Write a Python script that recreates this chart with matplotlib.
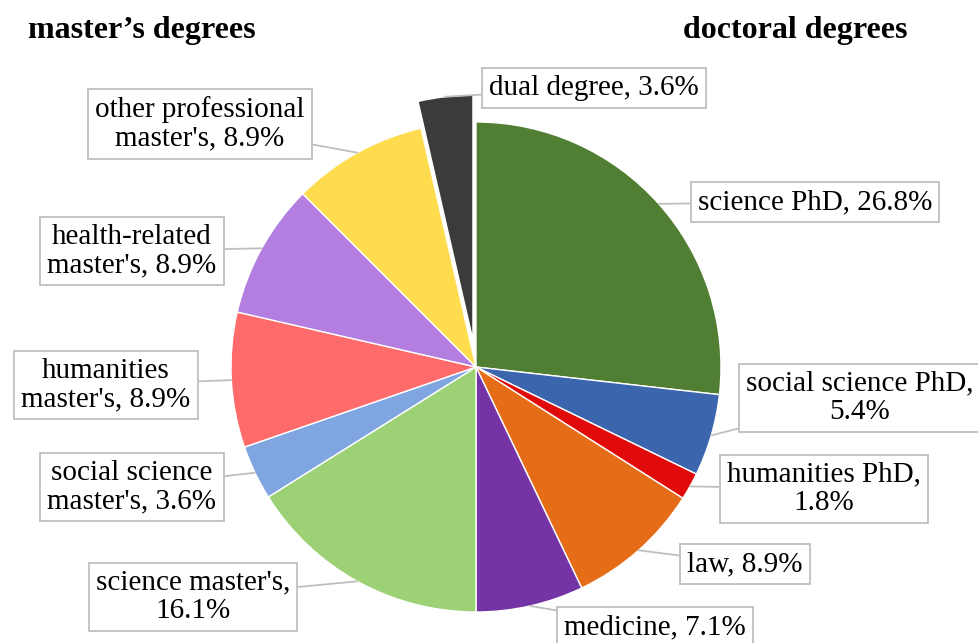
import matplotlib.pyplot as plt
import numpy as np

plt.rcParams["font.family"] = ["Liberation Serif", "DejaVu Serif"]

LABELS = [
    "science PhD, 26.8%",
    "social science PhD,\n5.4%",
    "humanities PhD,\n1.8%",
    "law, 8.9%",
    "medicine, 7.1%",
    "science master's,\n16.1%",
    "social science\nmaster's, 3.6%",
    "humanities\nmaster's, 8.9%",
    "health-related\nmaster's, 8.9%",
    "other professional\nmaster's, 8.9%",
    "dual degree, 3.6%",
]
SHARES = [26.8, 5.4, 1.8, 8.9, 7.1, 16.1, 3.6, 8.9, 8.9, 8.9, 3.6]
COLORS = ["#507e32", "#3b66ae", "#e00a0a", "#e56d18", "#7434a6",
          "#9dd175", "#7fa6e0", "#ff6b6b", "#b47ee0", "#ffdc4e", "#3c3a3b"]

# label box centres in pixel coords (x from left, y from top)
BOX_POS = [(815, 202), (860, 398), (824, 489), (745, 564), (655, 627),
           (193, 597), (132, 487), (106, 385), (132, 251), (200, 124),
           (594, 88)]

W, H = 979, 643
CX, CY, R = 476, 367, 245
explode = [0] * 10 + [27]   # pixels

fig = plt.figure(figsize=(W / 100, H / 100), dpi=100)
ax = fig.add_axes([0, 0, 1, 1])

wedges, _ = ax.pie(SHARES, colors=COLORS, explode=explode, startangle=90,
                   counterclock=False, center=(CX, H - CY), radius=R,
                   wedgeprops=dict(edgecolor="white", linewidth=1.0))
ax.set_xlim(0, W)
ax.set_ylim(0, H)
ax.set_aspect("equal")
ax.axis("off")

for w, lab, (bx, by) in zip(wedges, LABELS, BOX_POS):
    ang = np.deg2rad((w.theta1 + w.theta2) / 2)
    px = w.center[0] + w.r * np.cos(ang)
    py = w.center[1] + w.r * np.sin(ang)
    ax.annotate(lab, xy=(px, py), xytext=(bx, H - by),
                ha="center", va="center", fontsize=21, color="black",
                multialignment="center", linespacing=1.12,
                bbox=dict(boxstyle="square,pad=0.25", fc="white",
                          ec="#bfbfbf", lw=1.3),
                arrowprops=dict(arrowstyle="-", color="#bfbfbf", lw=1.3,
                                shrinkA=0, shrinkB=0))

ax.text(28, H - 30, "master’s degrees", fontsize=23, fontweight="bold",
        ha="left", va="center")
ax.text(908, H - 30, "doctoral degrees", fontsize=23, fontweight="bold",
        ha="right", va="center")

fig.savefig("out.png", dpi=100, facecolor="white")
